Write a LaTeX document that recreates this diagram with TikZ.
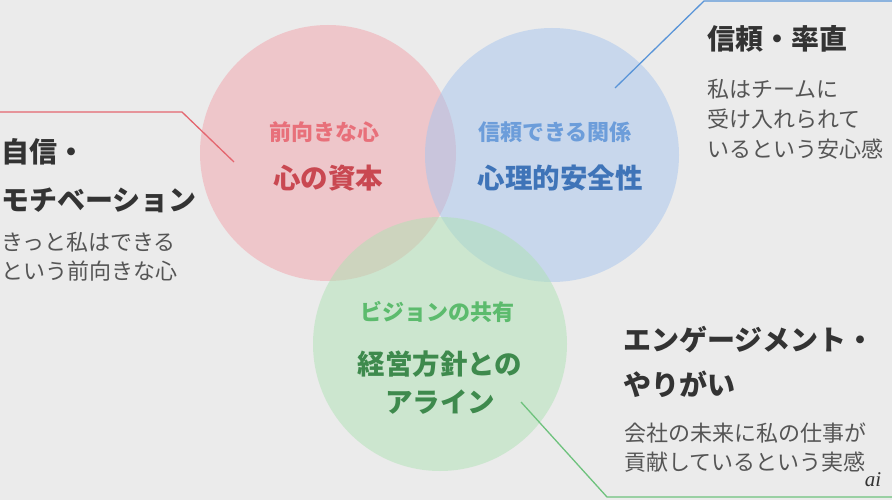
\documentclass[tikz,border=0pt]{standalone}
\usepackage{fontspec}
\setmainfont{Noto Sans CJK JP}
\newfontfamily\wmfont{Liberation Serif}
\definecolor{bgc}{HTML}{EBEBEB}
\definecolor{redfill}{HTML}{F2A2AA}
\definecolor{bluefill}{HTML}{A6C5EE}
\definecolor{greenfill}{HTML}{AEE2B4}
\definecolor{redline}{HTML}{E4666F}
\definecolor{blueline}{HTML}{5A95D8}
\definecolor{greenline}{HTML}{6EC27D}
\definecolor{redsub}{HTML}{E8707A}
\definecolor{redmain}{HTML}{C94851}
\definecolor{bluesub}{HTML}{6C9DDA}
\definecolor{bluemain}{HTML}{3F74B8}
\definecolor{greensub}{HTML}{5CBB6D}
\definecolor{greenmain}{HTML}{3E8A4D}
\definecolor{darktext}{HTML}{333333}
\definecolor{bodytext}{HTML}{555555}
\begin{document}
\begin{tikzpicture}[x=1pt,y=-1pt,
  circ/.style={fill opacity=0.5},
  callout/.style={line width=1.3pt},
  title/.style={inner sep=0pt, text=darktext, font=\fontsize{28}{30}\selectfont\bfseries},
  body/.style={inner sep=0pt, text=bodytext, font=\fontsize{22}{26}\selectfont},
  sub/.style={inner sep=0pt, font=\fontsize{22}{26}\selectfont\bfseries},
  main/.style={inner sep=0pt, font=\fontsize{27.5}{30}\selectfont\bfseries}]
\fill[bgc] (0,0) rectangle (892,500);
\useasboundingbox (0,0) rectangle (892,500);
% circles
\fill[redfill,circ] (328,153) circle (128);
\fill[bluefill,circ] (552,155) circle (127);
\fill[greenfill,circ] (440,344) circle (127);
% callout lines
\coordinate (r0) at (0,112);
\coordinate (r1) at (182,112);
\coordinate (r2) at (234,162);
\draw[redline,callout] (r0) -- (r1) -- (r2);
\coordinate (b0) at (615,88);
\coordinate (b1) at (704,1);
\coordinate (b2) at (892,1);
\draw[blueline,callout] (b0) -- (b1) -- (b2);
\coordinate (g0) at (521,402);
\coordinate (g1) at (607,497);
\coordinate (g2) at (892,497);
\draw[greenline,callout] (g0) -- (g1) -- (g2);
% circle texts
\node[sub,text=redsub] (rs) at (324,132) {前向きな心};
\node[main,text=redmain] (rm) at (328,178) {心の資本};
\node[sub,text=bluesub] (bs) at (555,132) {信頼できる関係};
\node[main,text=bluemain] (bm) at (560,178) {心理的安全性};
\node[sub,text=greensub] (gs) at (437,312) {ビジョンの共有};
\node[main,text=greenmain] (gm1) at (440,364) {経営方針との};
\node[main,text=greenmain] (gm2) at (440,402) {アライン};
% left texts
\node[title,anchor=west] (lt1) at (1,152) {自信・};
\node[title,anchor=west] (lt2) at (1,200) {モチベーション};
\node[body,anchor=west] (lb1) at (1,242) {きっと私はできる};
\node[body,anchor=west] (lb2) at (1,271) {という前向きな心};
% top right texts
\node[title,anchor=west] (tt1) at (707,39) {信頼・率直};
\node[body,anchor=west] (tb1) at (707,89) {私はチームに};
\node[body,anchor=west] (tb2) at (707,119) {受け入れられて};
\node[body,anchor=west] (tb3) at (707,149) {いるという安心感};
% bottom right texts
\node[title,anchor=west] (bt1) at (623,340) {エンゲージメント・};
\node[title,anchor=west] (bt2) at (623,384) {やりがい};
\node[body,anchor=west] (bb1) at (624,433) {会社の未来に私の仕事が};
\node[body,anchor=west] (bb2) at (624,462) {貢献しているという実感};
% watermark
\node[inner sep=0pt, text=darktext, font=\wmfont\itshape\fontsize{21}{22}\selectfont] (wm) at (873,480) {ai};
\end{tikzpicture}
\end{document}
